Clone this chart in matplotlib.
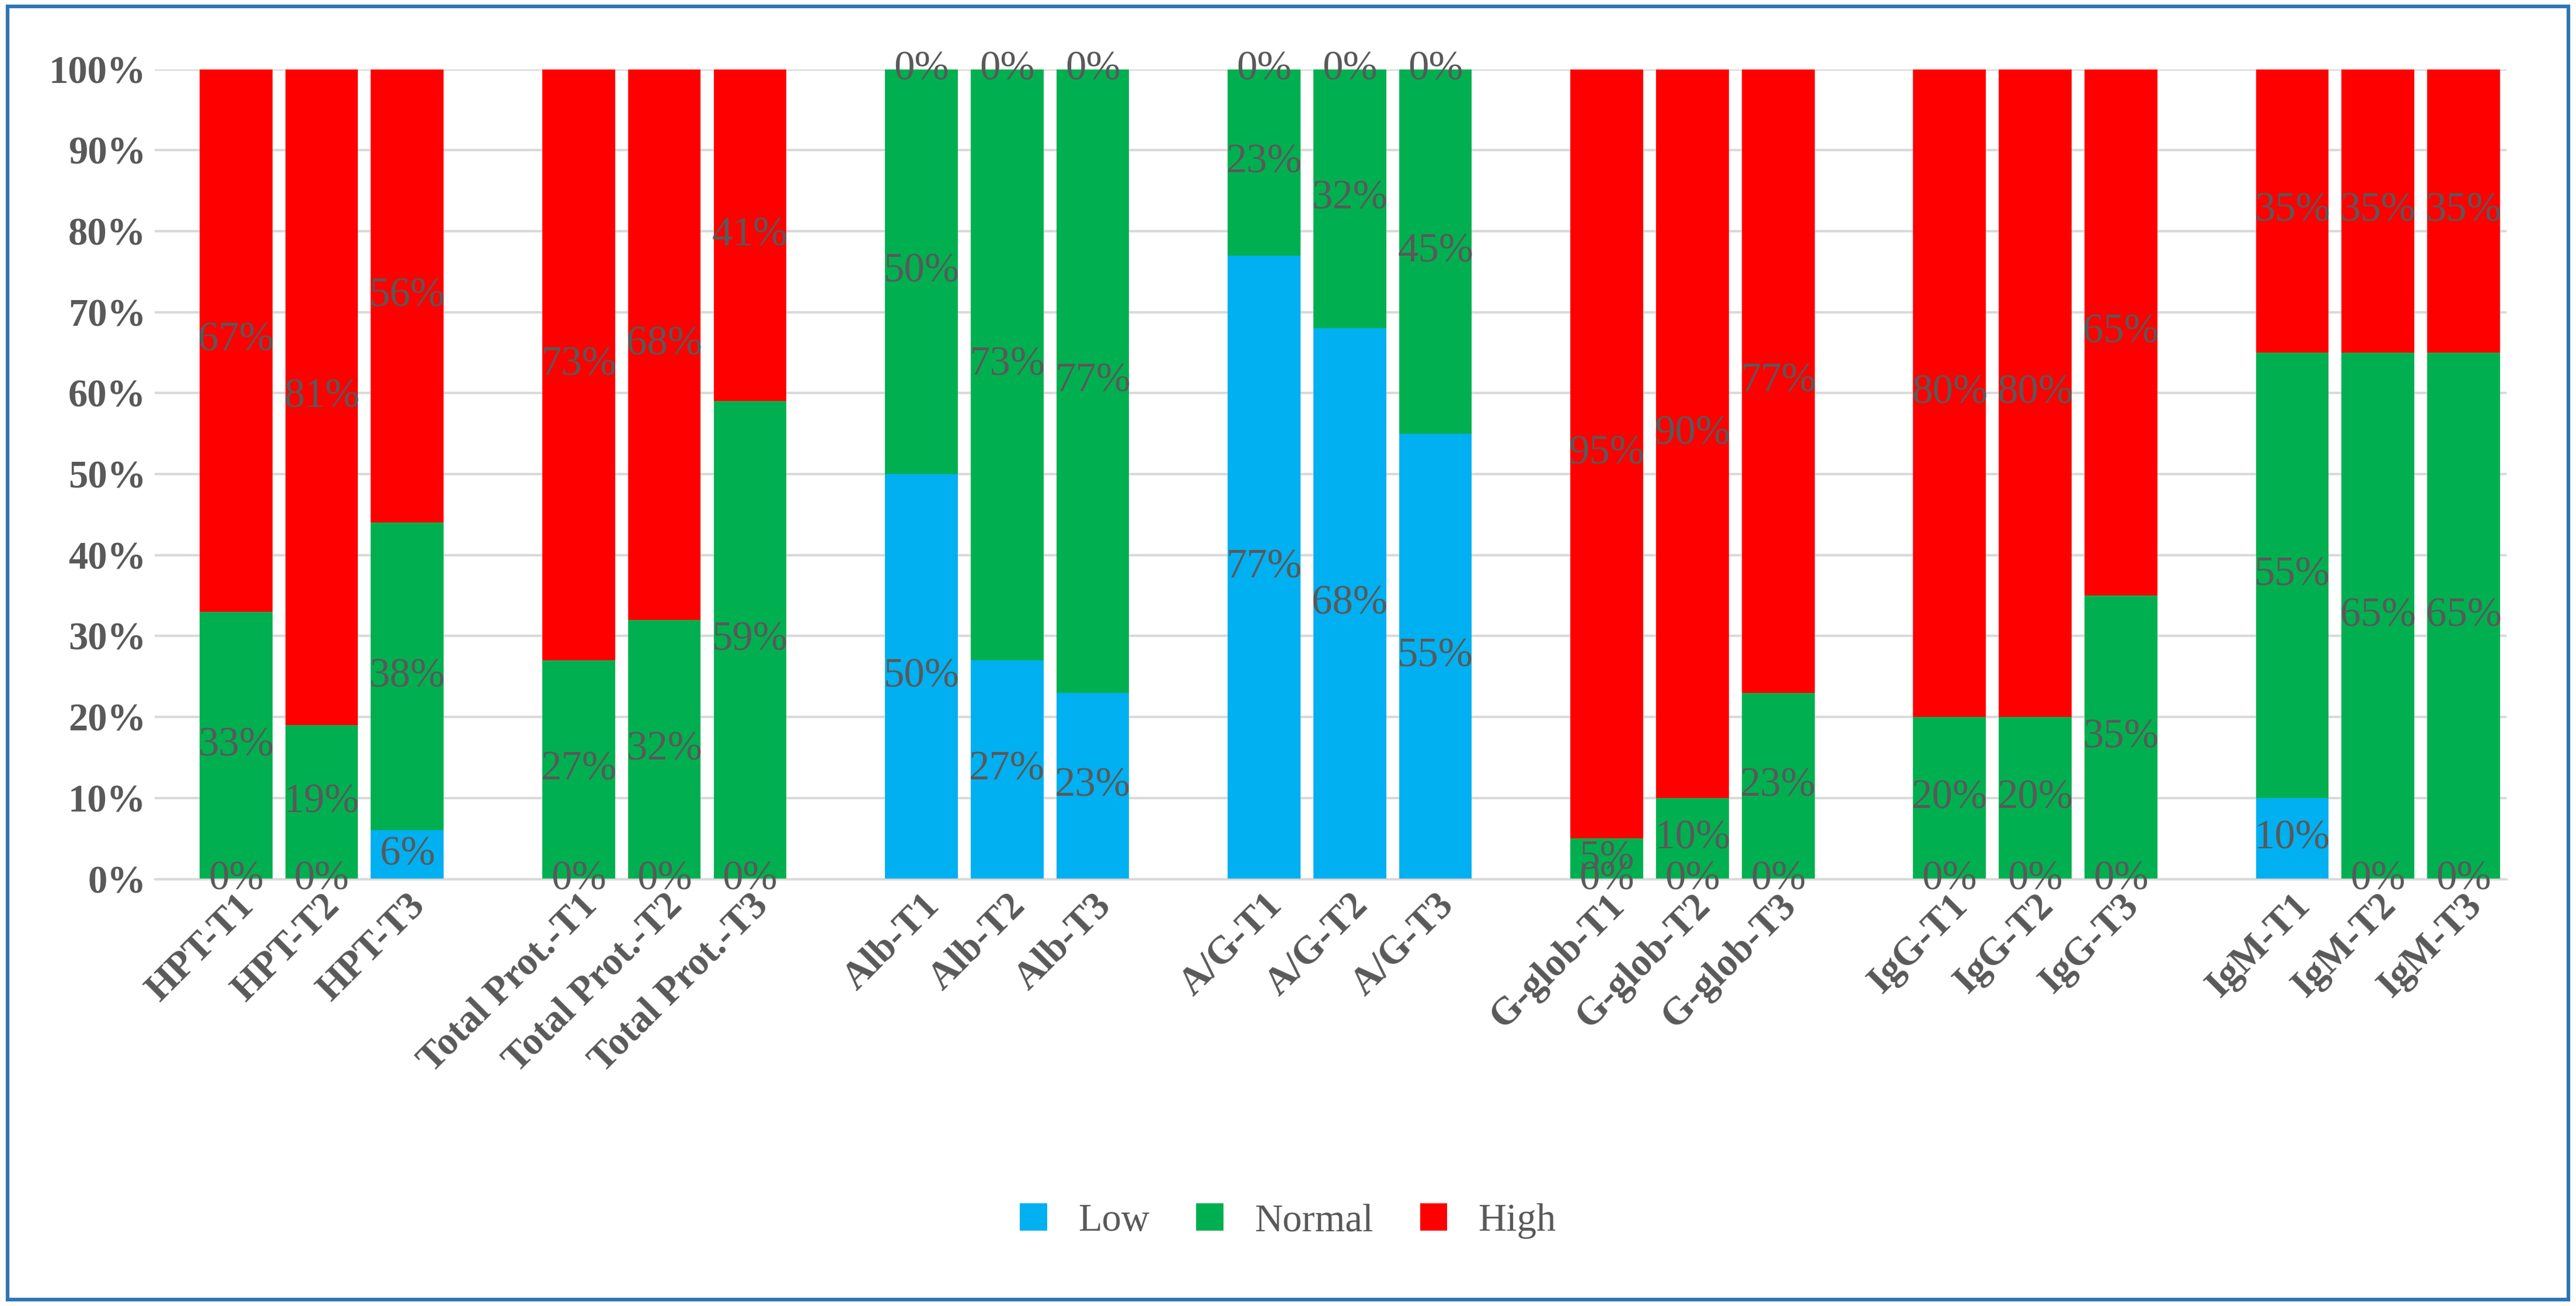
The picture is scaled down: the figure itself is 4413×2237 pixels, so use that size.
import numpy as np
import matplotlib.pyplot as plt
from matplotlib.patches import Rectangle

groups = ["HPT", "Total Prot.", "Alb", "A/G", "G-glob", "IgG", "IgM"]
times = ["T1", "T2", "T3"]
low = [0, 0, 6, 0, 0, 0, 50, 27, 23, 77, 68, 55, 0, 0, 0, 0, 0, 0, 10, 0, 0]
normal = [33, 19, 38, 27, 32, 59, 50, 73, 77, 23, 32, 45, 5, 10, 23, 20, 20, 35, 55, 65, 65]
high = [67, 81, 56, 73, 68, 41, 0, 0, 0, 0, 0, 0, 95, 90, 77, 80, 80, 65, 35, 35, 35]

labels = [f"{g}-{t}" for g in groups for t in times]
pos = np.array([gi * 4 + ti for gi in range(len(groups)) for ti in range(3)])

plt.rcParams['font.family'] = ['Liberation Serif', 'DejaVu Serif']
fig = plt.figure(figsize=(4413 / 300, 2237 / 300), dpi=300)
ax = fig.add_axes([0.06, 0.327, 0.913, 0.62])

low = np.array(low); normal = np.array(normal); high = np.array(high)
series = [("Low", low, "#00B0F0"), ("Normal", normal, "#00B050"), ("High", high, "#FF0000")]
bottom = np.zeros(len(pos))
for name, vals, col in series:
    ax.bar(pos, vals, 0.85, bottom=bottom, color=col, label=name, zorder=2)
    for x, b, v in zip(pos, bottom, vals):
        ax.text(x, b + v / 2, f"{v:.0f}%", ha="center", va="center",
                fontsize=17, color="#595959", zorder=3)
    bottom += vals

ax.set_xlim(-0.95, pos[-1] + 0.5)
ax.set_ylim(0, 100)
ax.set_yticks(np.arange(0, 101, 10))
ax.set_yticklabels([f"{v}%" for v in range(0, 101, 10)], fontsize=16,
                   fontweight="bold", color="#595959")
ax.set_xticks(pos)
ax.set_xticklabels(labels, rotation=45, ha="right", rotation_mode="anchor",
                   fontsize=16, fontweight="bold", color="#595959")
ax.tick_params(length=0)
ax.grid(axis="y", color="#D9D9D9", lw=1, zorder=0)
for s in ["top", "right", "left"]:
    ax.spines[s].set_visible(False)
ax.spines["bottom"].set_color("#D9D9D9")

fig.legend(loc="center", bbox_to_anchor=(0.5, 0.065), ncol=3, frameon=False,
           fontsize=16, handlelength=0.7, handleheight=0.7, columnspacing=1.2,
           labelcolor="#595959")
fig.add_artist(Rectangle((0.003, 0.005), 0.994, 0.99, transform=fig.transFigure,
                         fill=False, edgecolor="#2F75B5", lw=1.5))
fig.savefig("out.png", dpi=300)
